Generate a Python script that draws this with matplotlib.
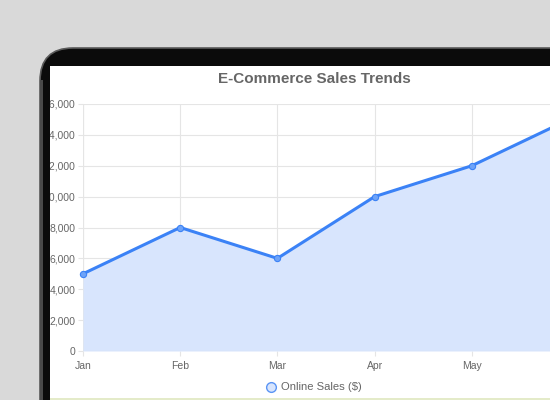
import matplotlib.pyplot as plt
from matplotlib.patches import FancyBboxPatch, Rectangle
from matplotlib.lines import Line2D

plt.rcParams['font.family'] = ['Liberation Sans', 'DejaVu Sans']

# data (June is mostly cut off by the frame)
months = ['Jan', 'Feb', 'Mar', 'Apr', 'May', 'Jun']
online_sales = [5000, 8000, 6000, 10000, 12000, 15000]
y_ticks = [0, 2000, 4000, 6000, 8000, 10000, 12000, 14000, 16000]
title = 'E-Commerce Sales Trends'
series_label = 'Online Sales ($)'

W, H = 550, 400
BLUE = '#3b82f6'
FILL = '#d8e5fd'
GRID = '#e5e5e5'
TXT = '#666666'

fig = plt.figure(figsize=(W / 100, H / 100), dpi=100)
fig.patch.set_facecolor('#d9d9d9')


def px(x, y):  # pixel coords (top-left origin) -> figure fraction
    return x / W, 1 - y / H


# device frame + screen
frame = FancyBboxPatch(px(40, 460), 600 / W, 412 / H, boxstyle='round,pad=0,rounding_size=0.06',
                       transform=fig.transFigure, facecolor='#0b0b0b', edgecolor='#5a5a5a',
                       linewidth=1.2, zorder=-3, mutation_aspect=W / H)
fig.add_artist(frame)
screen = Rectangle(px(50, 410), 520 / W, 344 / H, transform=fig.transFigure,
                   facecolor='white', edgecolor='none', zorder=-2)
fig.add_artist(screen)
fig.add_artist(Rectangle(px(50, 400), 520 / W, 2 / H, transform=fig.transFigure,
                         facecolor='#e4ebc9', edgecolor='none', zorder=-1))

# chart area: Jan at x=83, Jun at x=569, 0 at y=351, 16000 at y=104
l, b = px(83, 351)
ax = fig.add_axes([l, b, (569 - 83) / W, (351 - 104) / H])
ax.set_facecolor('none')
x = list(range(len(months)))
ax.fill_between(x, online_sales, 0, color=FILL, linewidth=0, zorder=1)
ax.plot(x, online_sales, color=BLUE, linewidth=2.2, zorder=3, clip_on=False,
        marker='o', markersize=4.5, markerfacecolor='#6ea3f8', markeredgecolor=BLUE,
        markeredgewidth=0.8)
ax.set_xlim(0, len(months) - 1)
ax.set_ylim(0, 16000)
ax.set_xticks(x)
ax.set_xticklabels(months)
ax.get_xticklabels()[-1].set_visible(False)  # outside the visible screen
ax.set_yticks(y_ticks)
ax.set_yticklabels([f'{v:,}' for v in y_ticks])
ax.grid(True, color=GRID, linewidth=0.8, zorder=0)
ax.set_axisbelow(True)
for s in ax.spines.values():
    s.set_visible(False)
ax.axvline(0, color='#dcdcdc', linewidth=0.8, zorder=0.5)
ax.axhline(0, color='#c9d3e6', linewidth=0.8, zorder=2)
ax.tick_params(axis='both', length=3.6, width=0.8, color=GRID, labelcolor=TXT,
               labelsize=7.5)
ax.tick_params(axis='y', pad=2)
ax.tick_params(axis='x', pad=3.5)

# title and legend
fig.text(*px(314, 79), title, ha='center', va='center', fontsize=11,
         fontweight='bold', color=TXT)
cx, cy = px(271, 386.5)
fig.add_artist(Line2D([cx], [cy], marker='o', markersize=7, markerfacecolor=FILL,
                      markeredgecolor='#5b95f5', markeredgewidth=1.0,
                      transform=fig.transFigure))
fig.text(*px(281, 386.5), series_label, ha='left', va='center', fontsize=8.1, color=TXT)

# left edge of the frame drawn over the clipped tick labels
fig.add_artist(Rectangle(px(40, 400), 10 / W, 320 / H, transform=fig.transFigure,
                         facecolor='#0b0b0b', edgecolor='none', zorder=5))
fig.add_artist(Rectangle(px(40, 400), 2.5 / W, 320 / H, transform=fig.transFigure,
                         facecolor='#4a4a4a', edgecolor='none', zorder=5))

fig.savefig('out.png', dpi=100, facecolor=fig.get_facecolor())
